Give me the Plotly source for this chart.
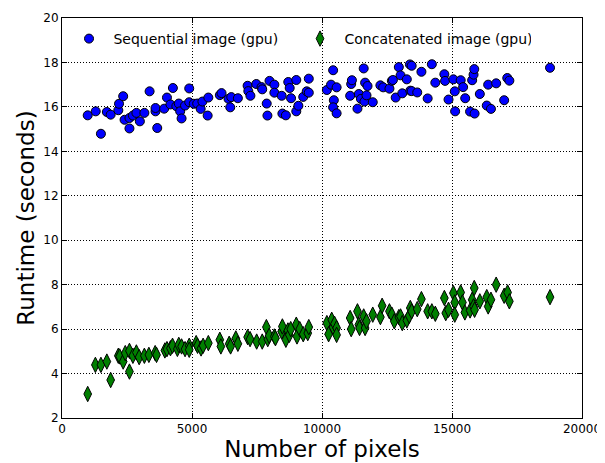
import plotly.graph_objects as go

seq_x = [989, 1297, 1497, 1725, 1872, 2166, 2193, 2353, 2406, 2594, 2594, 2727, 2861, 2995, 3168,
         3369, 3596, 3596, 3663, 3930, 4037, 4171, 4265, 4398, 4492, 4545, 4599, 4733, 4893, 4893,
         5067, 5200, 5334, 5401, 5602, 5628, 6070, 6136, 6404, 6471, 6511, 6765, 7139, 7166, 7246,
         7473, 7674, 7701, 7874, 7901, 7981, 8168, 8168, 8449, 8476, 8610, 8703, 8757, 8810, 9011,
         9011, 9091, 9278, 9412, 9492, 9492, 10187, 10348, 10428, 10455, 10428, 10562, 10562, 11083,
         11123, 11150, 11364, 11417, 11497, 11604, 11631, 11658, 11711, 11751, 11952, 12246, 12353,
         12594, 12687, 12727, 12834, 12955, 13021, 13088, 13262, 13382, 13449, 13396, 13449, 13663,
         13824, 14064, 14225, 14358, 14706, 14733, 14866, 15053, 15107, 15120, 15334, 15428, 15508,
         15695, 15775, 15829, 15856, 15869, 16070, 16337, 16391, 16498, 16699, 17006, 17126, 17206,
         18770]
seq_y = [15.62, 15.80, 14.79, 15.77, 15.65, 15.85, 16.14, 16.48, 15.42, 15.03, 15.50, 15.61, 15.73,
         15.35, 15.73, 16.70, 15.80, 15.95, 15.05, 15.92, 16.42, 16.11, 16.85, 16.03, 16.15, 15.80,
         15.48, 16.06, 16.83, 16.21, 16.14, 16.15, 15.91, 16.24, 15.61, 16.42, 16.53, 16.62, 16.36,
         15.98, 16.44, 16.39, 16.95, 16.71, 16.50, 17.03, 16.89, 16.79, 16.15, 15.61, 17.17, 17.00,
         16.64, 16.50, 15.70, 15.62, 17.12, 16.85, 16.39, 17.21, 15.80, 16.05, 16.45, 16.70, 17.27,
         16.64, 16.76, 17.00, 17.65, 16.30, 15.98, 16.88, 15.71, 16.50, 17.03, 17.20, 15.92, 16.58,
         16.36, 17.73, 16.24, 17.09, 16.52, 16.94, 16.21, 16.97, 16.88, 16.82, 17.17, 17.21, 16.42,
         17.79, 17.42, 16.61, 17.24, 17.91, 17.85, 16.73, 16.71, 16.65, 17.58, 16.38, 17.92, 17.09,
         17.47, 17.17, 16.33, 17.24, 16.70, 15.80, 17.20, 16.89, 16.39, 15.79, 17.20, 17.45, 17.70,
         15.70, 16.58, 16.06, 17.00, 15.91, 17.06, 16.30, 17.30, 17.18, 17.76]

cat_x = [989, 1284, 1497, 1725, 1872, 2166, 2219, 2353, 2433, 2594, 2594, 2727, 2861, 2968, 3168,
         3342, 3583, 3636, 3957, 4037, 4171, 4251, 4438, 4492, 4599, 4733, 4893, 4893, 5160, 5214,
         5348, 5428, 5628, 6070, 6110, 6430, 6484, 6685, 6765, 7139, 7233, 7487, 7701, 7861, 7914,
         7968, 8168, 8209, 8449, 8476, 8610, 8690, 8744, 8797, 9011, 9038, 9144, 9278, 9452, 9492,
         10187, 10254, 10374, 10428, 10481, 10562, 10562, 11083, 11123, 11364, 11417, 11444, 11604,
         11658, 11711, 11952, 12246, 12313, 12594, 12687, 12781, 12955, 13021, 13088, 13262, 13356,
         13396, 13449, 13663, 13824, 14064, 14225, 14358, 14706, 14760, 14866, 15053, 15107, 15107,
         15334, 15401, 15495, 15695, 15775, 15829, 15856, 15869, 16070, 16337, 16391, 16498, 16699,
         17006, 17139, 17206, 18770]
cat_y = [3.08, 4.39, 4.39, 4.54, 3.71, 4.80, 4.77, 4.54, 4.92, 5.02, 4.09, 4.80, 4.95, 4.74, 4.80,
         4.84, 4.92, 4.84, 5.04, 5.10, 5.14, 5.25, 5.11, 5.29, 5.22, 5.10, 5.25, 5.07, 5.37, 5.25,
         5.13, 5.25, 5.37, 5.52, 5.22, 5.34, 5.22, 5.58, 5.34, 5.64, 5.55, 5.44, 5.44, 6.09, 5.55,
         5.70, 5.67, 5.59, 5.89, 6.12, 5.52, 5.94, 5.74, 6.00, 6.20, 5.67, 6.00, 5.77, 5.82, 6.09,
         6.27, 5.77, 6.42, 6.09, 6.24, 6.05, 5.74, 6.50, 6.00, 6.80, 6.20, 6.05, 6.57, 6.05, 6.35,
         6.65, 6.54, 7.05, 6.80, 6.65, 6.35, 6.54, 6.57, 6.27, 6.39, 6.60, 6.95, 6.80, 6.90, 7.35,
         6.80, 6.80, 6.69, 7.40, 6.72, 6.87, 7.62, 7.20, 6.65, 7.65, 7.20, 6.75, 6.84, 7.32, 7.02,
         7.85, 6.87, 7.25, 7.44, 7.02, 7.32, 8.00, 7.50, 7.65, 7.25, 7.44]

x_ticks = [0, 5000, 10000, 15000, 20000]
y_ticks = [2, 4, 6, 8, 10, 12, 14, 16, 18, 20]

fig = go.Figure()
fig.add_trace(go.Scatter(
    x=seq_x, y=seq_y, mode="markers", name="\u00a0Sequential image (gpu)",
    marker=dict(symbol="circle", size=9, color="#0000ff", line=dict(color="black", width=1)),
))
fig.add_trace(go.Scatter(
    x=cat_x, y=cat_y, mode="markers", name="\u00a0Concatenated image (gpu)",
    marker=dict(symbol="diamond-tall", size=11, color="#007f00", line=dict(color="black", width=1)),
))

axis_common = dict(
    showline=True, linecolor="black", linewidth=1, mirror="allticks",
    ticks="inside", ticklen=5, tickcolor="black",
    showgrid=True, gridcolor="black", griddash="1px,2px", gridwidth=1,
    zeroline=False, automargin=False,
    tickfont=dict(family="DejaVu Sans", size=12, color="black"),
)
fig.update_xaxes(range=[0, 20000], tickvals=x_ticks, ticktext=[str(v) for v in x_ticks],
                 title=dict(text="Number of pixels", font=dict(family="DejaVu Sans", size=23, color="black"),
                            standoff=5),
                 **axis_common)
fig.update_yaxes(range=[2, 20], tickvals=y_ticks, ticktext=[str(v) for v in y_ticks],
                 title=dict(text="Runtime (seconds)", font=dict(family="DejaVu Sans", size=23, color="black"),
                            standoff=2),
                 **axis_common)

fig.update_layout(
    width=605, height=463,
    margin=dict(l=54, r=31, t=10, b=53),
    plot_bgcolor="white", paper_bgcolor="white",
    font=dict(family="DejaVu Sans", color="black"),
    showlegend=True,
    legend=dict(orientation="h", x=0.0135, y=0.9875, xanchor="left", yanchor="top",
                bgcolor="rgba(0,0,0,0)", font=dict(family="DejaVu Sans", size=14, color="black"),
                entrywidth=186, entrywidthmode="pixels"),
)

fig.write_html("out.html")
